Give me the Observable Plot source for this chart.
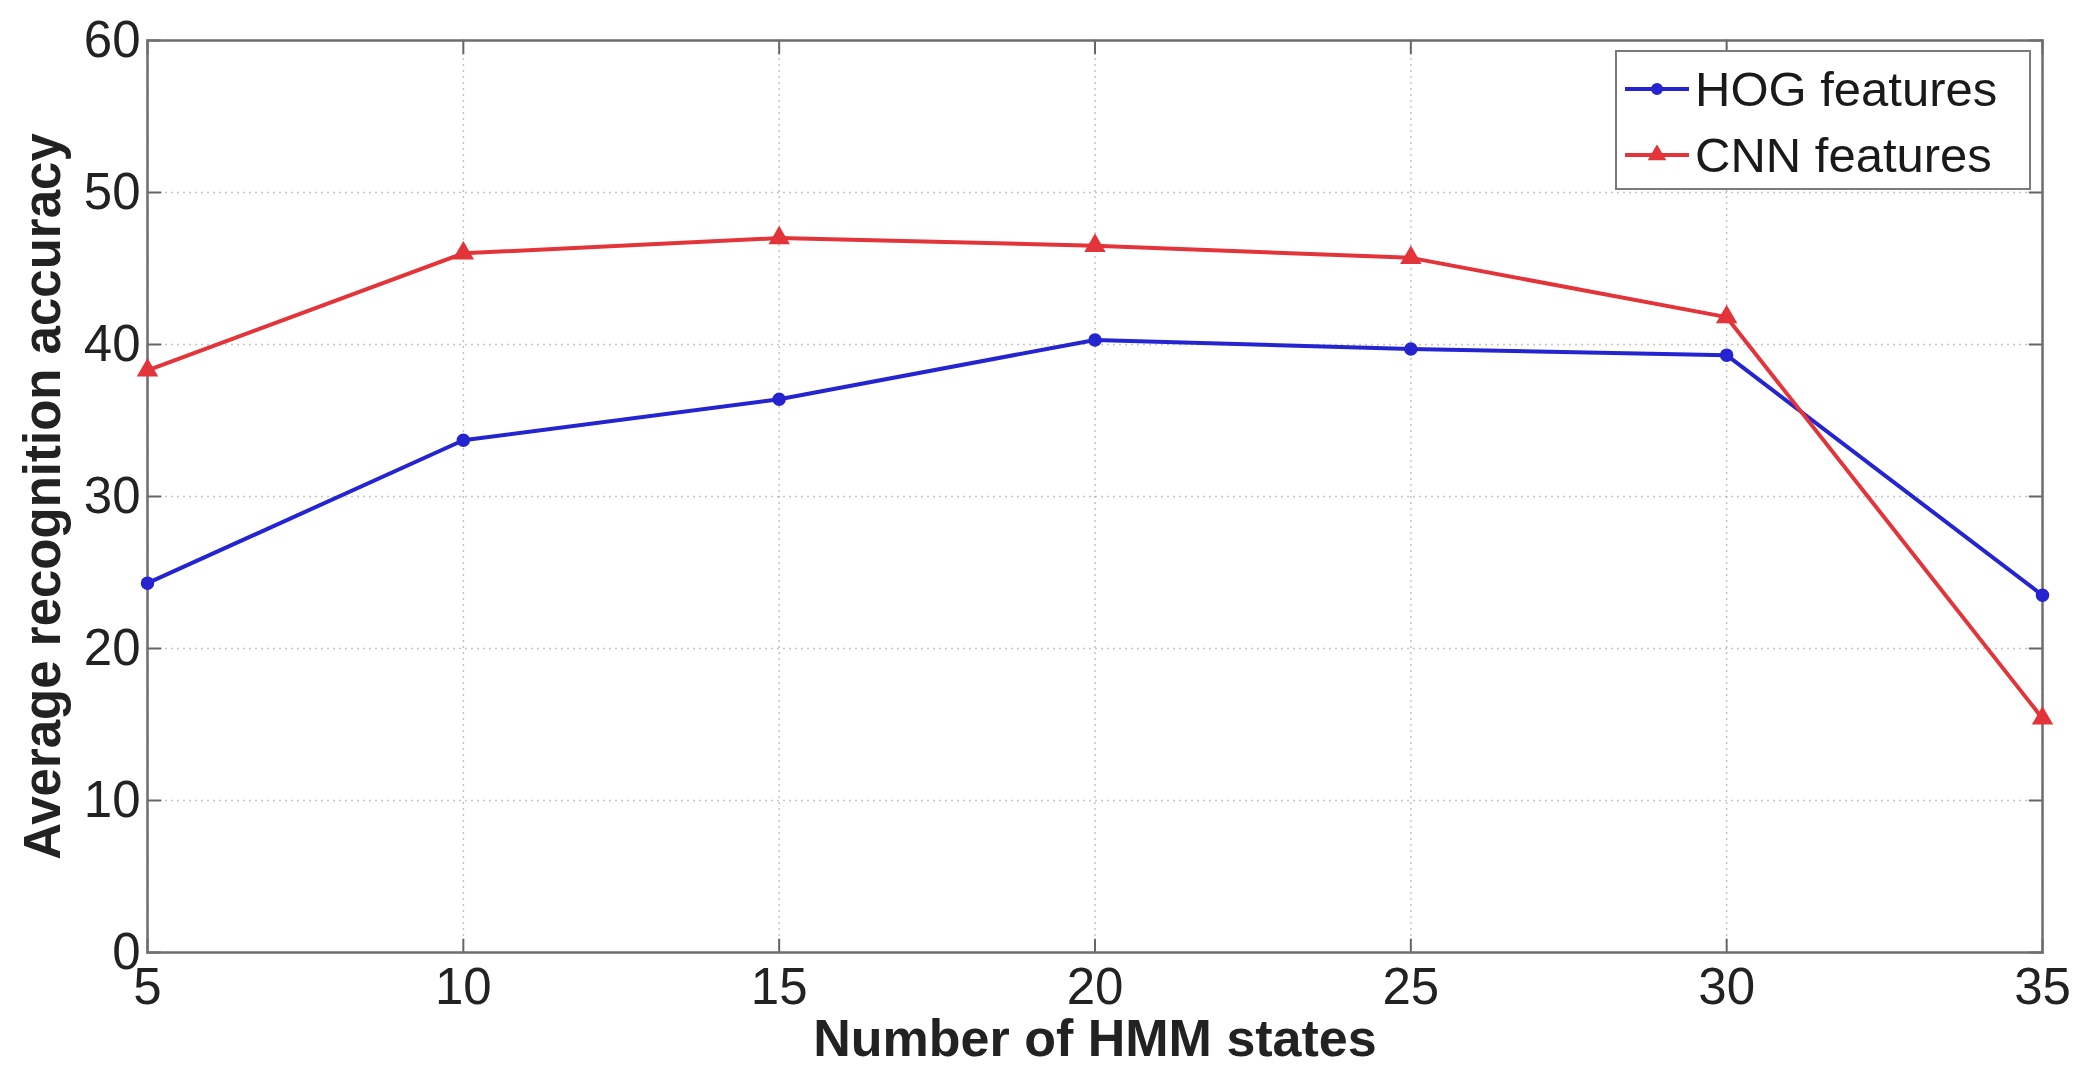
<!DOCTYPE html>
<html>
<head>
<meta charset="utf-8">
<script src="https://cdn.jsdelivr.net/npm/d3@7"></script>
<script src="https://cdn.jsdelivr.net/npm/@observablehq/plot@0.6"></script>
<style>
  html, body { margin: 0; padding: 0; background: #fff; }
  #wrap { position: relative; width: 2077px; height: 1068px; font-family: "Liberation Sans", Arial, sans-serif; }
  #legend { position: absolute; left: 1615px; top: 50px; width: 416px; height: 140px;
    border: 2px solid #7a7a7a; background: #fff; box-sizing: border-box; }
  .row { position: absolute; left: 0; height: 70px; display: flex; align-items: center; }
  .row span { font-size: 49px; color: #1a1a1a; white-space: nowrap; }
  .row svg { margin-left: 8px; margin-right: 6px; }
</style>
</head>
<body>
<div id="wrap"></div>
<script>
const states = [5, 10, 15, 20, 25, 30, 35];
const hogAcc = [24.3, 33.7, 36.4, 40.3, 39.7, 39.3, 23.5];
const cnnAcc = [38.3, 46.0, 47.0, 46.5, 45.7, 41.8, 15.4];
const seriesNames = ["HOG features", "CNN features"];
const seriesColors = ["#2424d0", "#e3343a"];
const xTicks = [5, 10, 15, 20, 25, 30, 35];
const yTicks = [0, 10, 20, 30, 40, 50, 60];
const xLabel = "Number of HMM states";
const yLabel = "Average recognition accuracy";

const rows = [];
states.forEach((s, i) => {
  rows.push({x: s, y: hogAcc[i], series: seriesNames[0]});
  rows.push({x: s, y: cnnAcc[i], series: seriesNames[1]});
});
const hogRows = rows.filter(d => d.series === seriesNames[0]);
const cnnRows = rows.filter(d => d.series === seriesNames[1]);

const tickShape = { draw(context, l) { context.moveTo(0, 0); context.lineTo(0, -l); } };
const tickStyle = {shape: tickShape, length: 13, anchor: "start", stroke: "#666", strokeWidth: 2};

const chart = Plot.plot({
  width: 2077,
  height: 1068,
  marginLeft: 147,
  marginRight: 35,
  marginTop: 40,
  marginBottom: 116,
  style: {fontFamily: "'Liberation Sans', Arial, sans-serif", fontSize: "51px", color: "#222", background: "#fff"},
  x: {domain: [5, 35], ticks: xTicks, label: null},
  y: {domain: [0, 60], ticks: yTicks, label: null},
  marks: [
    Plot.gridX(xTicks, {stroke: "#8a8a8a", strokeOpacity: 0.5, strokeDasharray: "2,4", strokeWidth: 1.5}),
    Plot.gridY(yTicks, {stroke: "#8a8a8a", strokeOpacity: 0.5, strokeDasharray: "2,4", strokeWidth: 1.5}),
    Plot.vector(xTicks, {x: d => d, y: 0, rotate: 0, ...tickStyle}),
    Plot.vector(xTicks, {x: d => d, y: 60, rotate: 180, ...tickStyle}),
    Plot.vector(yTicks, {x: 5, y: d => d, rotate: 90, ...tickStyle}),
    Plot.vector(yTicks, {x: 35, y: d => d, rotate: 270, ...tickStyle}),
    Plot.frame({stroke: "#6e6e6e", strokeWidth: 2.5}),
    Plot.axisX(xTicks, {tickSize: 0, tickPadding: 15, fill: "#222"}),
    Plot.axisY(yTicks, {tickSize: 0, tickPadding: 7, fill: "#222"}),
    Plot.line(hogRows, {x: "x", y: "y", stroke: seriesColors[0], strokeWidth: 4}),
    Plot.dot(hogRows, {x: "x", y: "y", symbol: "circle", r: 6, fill: seriesColors[0], stroke: seriesColors[0]}),
    Plot.line(cnnRows, {x: "x", y: "y", stroke: seriesColors[1], strokeWidth: 4}),
    Plot.dot(cnnRows, {x: "x", y: "y", symbol: "triangle", r: 7, fill: seriesColors[1], stroke: seriesColors[1]}),
    Plot.text([xLabel], {frameAnchor: "bottom", dy: 87, fontWeight: "bold", fontSize: 52, fill: "#222", lineAnchor: "middle", textAnchor: "middle"}),
    Plot.text([yLabel], {frameAnchor: "left", rotate: -90, dx: -104, fontWeight: "bold", fontSize: 51, fill: "#222", lineAnchor: "middle", textAnchor: "middle"})
  ]
});

const wrap = document.getElementById("wrap");
wrap.appendChild(chart);

const legend = document.createElement("div");
legend.id = "legend";
const symbols = ["circle", "triangle"];
seriesNames.forEach((name, i) => {
  const row = document.createElement("div");
  row.className = "row";
  row.style.top = (i * 66 + 2) + "px";
  const ns = "http://www.w3.org/2000/svg";
  const svg = document.createElementNS(ns, "svg");
  svg.setAttribute("width", "64"); svg.setAttribute("height", "20");
  const line = document.createElementNS(ns, "line");
  line.setAttribute("x1", "0"); line.setAttribute("x2", "64");
  line.setAttribute("y1", "10"); line.setAttribute("y2", "10");
  line.setAttribute("stroke", seriesColors[i]); line.setAttribute("stroke-width", "4");
  svg.appendChild(line);
  const sym = document.createElementNS(ns, "path");
  const gen = d3.symbol(symbols[i] === "circle" ? d3.symbolCircle : d3.symbolTriangle, symbols[i] === "circle" ? 113 : 150);
  sym.setAttribute("d", gen());
  sym.setAttribute("transform", "translate(32,10)");
  sym.setAttribute("fill", seriesColors[i]);
  svg.appendChild(sym);
  const label = document.createElement("span");
  label.textContent = name;
  row.appendChild(svg);
  row.appendChild(label);
  legend.appendChild(row);
});
wrap.appendChild(legend);
</script>
</body>
</html>
